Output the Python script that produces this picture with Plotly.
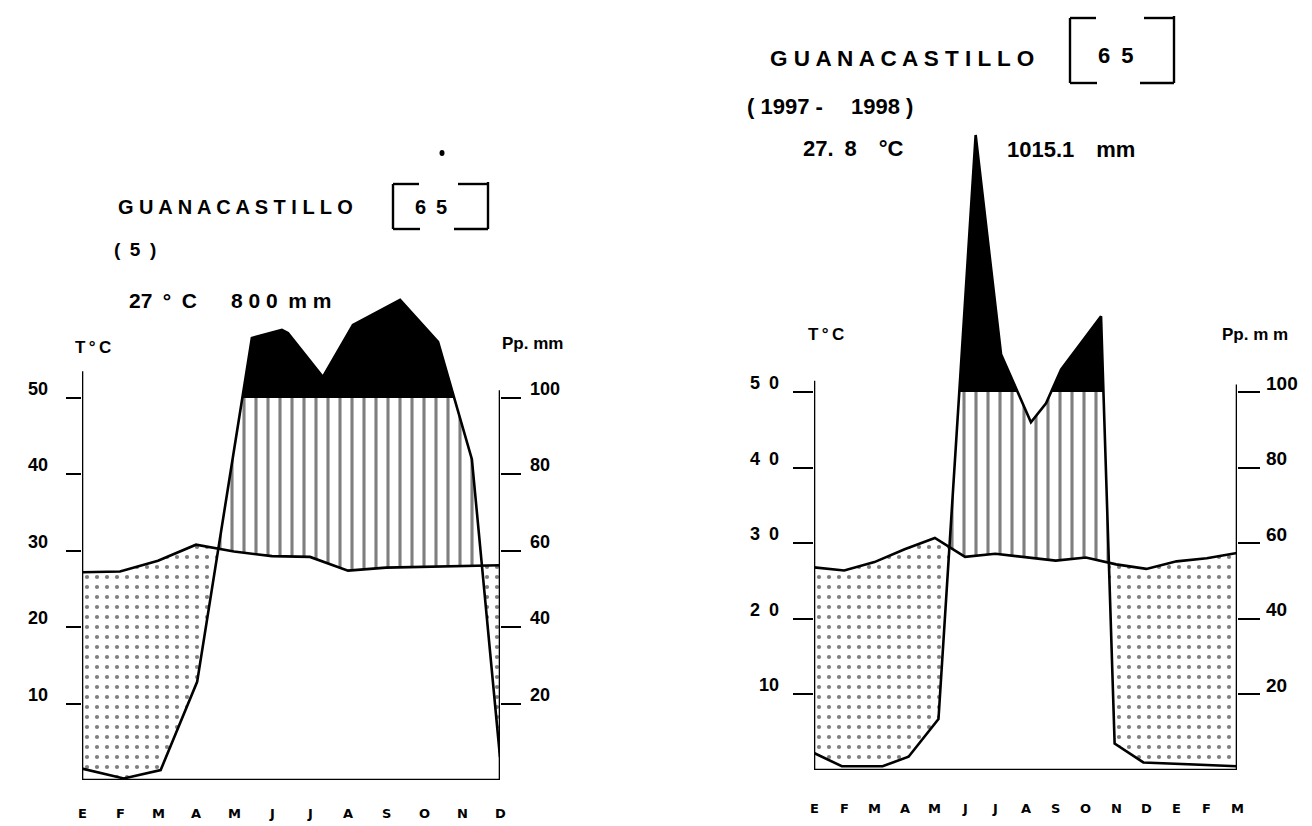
import numpy as np
import plotly.graph_objects as go

W, H = 1312, 826          # reference picture size
OFF = 8                   # page body margin in the browser
FW, FH = W - OFF, H - OFF # figure size so that it fits the window

# ---------------- data ----------------
LEFT_MONTHS = ["E", "F", "M", "A", "M", "J", "J", "A", "S", "O", "N", "D"]
LEFT_TEMP_C = [27.2, 27.3, 28.7, 30.8, 29.9, 29.3, 29.2, 27.4, 27.8, 27.9, 28.0, 28.1]
LEFT_PRECIP_MONTHPOS = [0, 1.1, 2.07, 3.03, 4.47, 5.26, 5.42, 6.34, 7.13, 8.37, 9.37, 10.26, 11]
LEFT_PRECIP_MM = [3, 0.4, 2.6, 25.7, 115.7, 117.8, 117, 105.5, 119.1, 125.7, 114.7, 84, 6]

RIGHT_MONTHS = ["E", "F", "M", "A", "M", "J", "J", "A", "S", "O", "N", "D", "E", "F", "M"]
RIGHT_TEMP_C = [26.8, 26.4, 27.5, 29.2, 30.7, 28.2, 28.6, 28.1, 27.7, 28.1, 27.2, 26.6, 27.6, 28.0, 28.7]
RIGHT_PRECIP_MONTHPOS = [0, 0.92, 2.27, 3.13, 4.12, 5.35, 6.19, 7.18, 7.68, 8.18, 9.5, 9.95, 10.9, 14]
RIGHT_PRECIP_MM = [4.5, 1, 1, 3.5, 13.5, 168, 110, 92, 97, 106, 120, 7, 2, 1]

TEMP_TICKS = [10, 20, 30, 40, 50]
LEFT_TEMP_TICKTEXT = ["10", "20", "30", "40", "50"]
RIGHT_TEMP_TICKTEXT = ["10", "2\u20020", "3\u20020", "4\u20020", "5\u20020"]
PRECIP_TICKS = [20, 40, 60, 80, 100]
PRECIP_TICKTEXT = ["20", "40", "60", "80", "100"]

MM_PER_DEG = 2.0      # Walter-Lieth: 10 degC <-> 20 mm
HUMID_CAP_MM = 100.0  # above this, the surplus is drawn in solid black

FONT = "Liberation Sans"


def px(x, y):
    """reference-picture pixel -> paper fraction"""
    return (x - OFF) / FW, 1 - (y - OFF) / FH


def regions(tx, ty, pxs, pys, cap):
    xs = sorted(set(list(tx) + list(pxs)))
    pts = []
    for a, b in zip(xs[:-1], xs[1:]):
        pts.append(a)
        ta, tb = np.interp([a, b], tx, ty)
        pa, pb = np.interp([a, b], pxs, pys)
        for ga, gb in ((pa - ta, pb - tb), (pa - cap, pb - cap)):
            if ga * gb < 0:
                pts.append(a + (b - a) * ga / (ga - gb))
    pts.append(xs[-1])
    pts = np.array(sorted(pts))
    return pts, np.interp(pts, tx, ty), np.interp(pts, pxs, pys)


fig = go.Figure()


def add_panel(months, temp, ppos, pmm, xa, ya, ya2):
    tx = list(range(len(months)))
    pdeg = [v / MM_PER_DEG for v in pmm]
    cap = HUMID_CAP_MM / MM_PER_DEG
    xs, T, P = regions(tx, temp, ppos, pdeg, cap)

    def band(lo, hi, **fillkw):
        fig.add_trace(go.Scatter(x=xs, y=lo, xaxis=xa, yaxis=ya, mode="lines",
                                 line=dict(width=0), hoverinfo="skip", showlegend=False))
        fig.add_trace(go.Scatter(x=xs, y=hi, xaxis=xa, yaxis=ya, mode="lines",
                                 line=dict(width=0), fill="tonexty", hoverinfo="skip",
                                 showlegend=False, **fillkw))

    # arid period: dots
    band(np.minimum(P, T), T, fillcolor="rgba(255,255,255,0)",
         fillpattern=dict(shape=".", size=10, solidity=0.14, fgcolor="black",
                          bgcolor="rgba(255,255,255,0)", fillmode="overlay"))
    # humid period: vertical hatching
    band(T, np.maximum(T, np.minimum(P, cap)), fillcolor="rgba(255,255,255,0)",
         fillpattern=dict(shape="|", size=12, solidity=0.26, fgcolor="black",
                          bgcolor="rgba(255,255,255,0)", fillmode="overlay"))
    # surplus above 100 mm: solid black
    band(np.full_like(P, cap), np.maximum(cap, P), fillcolor="black")

    fig.add_trace(go.Scatter(x=tx, y=temp, xaxis=xa, yaxis=ya, mode="lines",
                             line=dict(color="black", width=2.6), showlegend=False))
    fig.add_trace(go.Scatter(x=ppos, y=pmm, xaxis=xa, yaxis=ya2, mode="lines",
                             line=dict(color="black", width=2.6), showlegend=False))


add_panel(LEFT_MONTHS, LEFT_TEMP_C, LEFT_PRECIP_MONTHPOS, LEFT_PRECIP_MM, "x", "y", "y2")
add_panel(RIGHT_MONTHS, RIGHT_TEMP_C, RIGHT_PRECIP_MONTHPOS, RIGHT_PRECIP_MM, "x2", "y3", "y4")

# ---------------- axes ----------------
L_X0, L_X1, L_Y0, L_TOP, L_PXU = 82, 500, 780, 282, 7.64
R_X0, R_X1, R_Y0, R_TOP, R_PXU = 814, 1237, 770, 112, 7.56
l_ymax = (L_Y0 - L_TOP) / L_PXU
r_ymax = (R_Y0 - R_TOP) / R_PXU

common_x = dict(showgrid=False, zeroline=False, showline=False, ticks="",
                showticklabels=False)
common_y = dict(showgrid=False, zeroline=False, showline=False, ticks="outside",
                tickwidth=2.4, tickcolor="black", showticklabels=False)


def xdom(a, b):
    return [(a - OFF) / FW, (b - OFF) / FW]


def ydom(bottom, top):
    return [1 - (bottom - OFF) / FH, 1 - (top - OFF) / FH]


fig.update_layout(
    xaxis=dict(domain=xdom(L_X0, L_X1), range=[0, 11], anchor="y", **common_x),
    yaxis=dict(domain=ydom(L_Y0, L_TOP), range=[0, l_ymax], anchor="x",
               tickvals=TEMP_TICKS, ticklen=15, **common_y),
    yaxis2=dict(overlaying="y", side="right", anchor="x", range=[0, l_ymax * MM_PER_DEG],
                tickvals=PRECIP_TICKS, ticklen=20, **common_y),
    xaxis2=dict(domain=xdom(R_X0, R_X1), range=[0, 14], anchor="y3", **common_x),
    yaxis3=dict(domain=ydom(R_Y0, R_TOP), range=[0, r_ymax], anchor="x2",
                tickvals=TEMP_TICKS, ticklen=20, **common_y),
    yaxis4=dict(overlaying="y3", side="right", anchor="x2", range=[0, r_ymax * MM_PER_DEG],
                tickvals=PRECIP_TICKS, ticklen=22, **common_y),
    width=FW, height=FH, autosize=False,
    margin=dict(l=0, r=0, t=0, b=0),
    paper_bgcolor="white", plot_bgcolor="rgba(0,0,0,0)",
    showlegend=False,
)

shapes = []
for xa, ya, xmax, ltop, rtop in (("x", "y", 11, 53.5, 51), ("x2", "y3", 14, 51.5, 51)):
    ln = dict(color="black", width=2.6)
    shapes.append(dict(type="line", xref=xa, yref=ya, x0=0, x1=0, y0=0, y1=ltop, line=ln, layer="above"))
    shapes.append(dict(type="line", xref=xa, yref=ya, x0=xmax, x1=xmax, y0=0, y1=rtop, line=ln, layer="above"))
    shapes.append(dict(type="line", xref=xa, yref=ya, x0=0, x1=xmax, y0=0, y1=0, line=ln, layer="above"))


def seg(x0, y0, x1, y1, w=2.4):
    a, b = px(x0, y0)
    c, d = px(x1, y1)
    shapes.append(dict(type="line", xref="paper", yref="paper", x0=a, y0=b, x1=c, y1=d,
                       line=dict(color="black", width=w)))


# brackets around the station number
for (lx, rx, ty, by) in ((393, 488, 184, 229), (1070, 1174, 18, 83)):
    seg(lx, ty, lx, by)
    seg(lx, ty, lx + 26, ty)
    seg(lx, by, lx + 27, by)
    seg(rx, ty - 2, rx, by)
    seg(rx - 30, ty, rx, ty)
    seg(rx - 34, by, rx, by)

# speck in the scan
cx, cy = px(442, 153)
shapes.append(dict(type="circle", xref="paper", yref="paper", x0=cx - 2.5 / FW, x1=cx + 2.5 / FW,
                   y0=cy - 3 / FH, y1=cy + 3 / FH, fillcolor="black", line=dict(width=0)))
fig.update_layout(shapes=shapes)

# ---------------- texts ----------------
annos = []


def bold(size, family=FONT):
    return dict(family=family, size=size, color="black", weight="bold")


def text(s, x, y, size, anchor="center"):
    a, b = px(x, y)
    annos.append(dict(text=s, x=a, y=b, xref="paper", yref="paper", showarrow=False,
                      xanchor=anchor, yanchor="middle", font=bold(size)))


def ytick_labels(vals, labels, xpix, anchor, yref, size):
    a, _ = px(xpix, 0)
    for v, lab in zip(vals, labels):
        annos.append(dict(text=lab, x=a, y=v, xref="paper", yref=yref, yshift=9,
                          showarrow=False, xanchor=anchor, yanchor="middle", font=bold(size)))


def month_labels(months, xref, ypix):
    _, b = px(0, ypix)
    for i, m in enumerate(months):
        annos.append(dict(text=m, x=i, y=b, xref=xref, yref="paper", showarrow=False,
                          xanchor="center", yanchor="middle",
                          font=bold(13, "DejaVu Sans")))


# tick labels
ytick_labels(TEMP_TICKS, LEFT_TEMP_TICKTEXT, 50, "right", "y", 18)
ytick_labels(PRECIP_TICKS, PRECIP_TICKTEXT, 528, "left", "y2", 18)
ytick_labels(TEMP_TICKS, RIGHT_TEMP_TICKTEXT, 781, "right", "y3", 18)
ytick_labels(PRECIP_TICKS, PRECIP_TICKTEXT, 1264, "left", "y4", 19)
month_labels(LEFT_MONTHS, "x", 813)
month_labels(RIGHT_MONTHS, "x2", 808)

# left panel texts
text("G U A N A C A S T I L L O", 235, 207, 20)
text("6\u20025", 431, 207, 20)
text("(\u20025\u2002)", 112, 250, 19, "left")
text("27\u2002\u00b0\u2002C", 127, 300, 21, "left")
text("8 0 0\u2002m m", 229, 300, 21, "left")
text("T\u2009\u00b0\u2009C", 93, 347, 17)
text("Pp. mm", 532, 343, 17)

# right panel texts
text("G U A N A C A S T I L L O", 902, 58, 22.5)
text("6\u20025", 1115, 55, 22)
text("( 1997 -\u2003 1998 )", 745, 107, 22, "left")
text("27.\u20028\u2003\u00b0C", 801, 148, 22, "left")
text("1015.1\u2003mm", 1005, 150, 22, "left")
text("T\u2009\u00b0\u2009C", 826, 335, 17)
text("Pp. m m", 1255, 335, 17)

fig.update_layout(annotations=annos)

fig.write_html("out.html")
